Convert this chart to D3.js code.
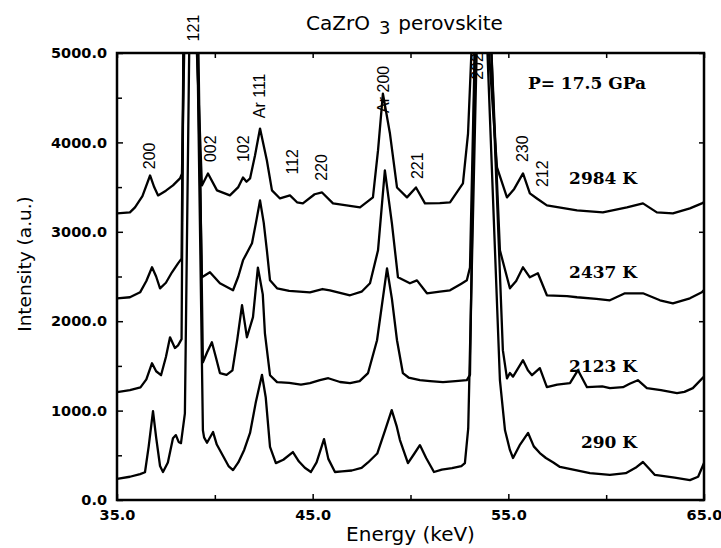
<!DOCTYPE html>
<html>
<head>
<meta charset="utf-8">
<script src="https://cdn.jsdelivr.net/npm/d3@7"></script>
<style>
  body { margin: 0; background: #fff; }
  .tick text { font-family: "DejaVu Sans", sans-serif; font-weight: bold; font-size: 14.5px; fill: #000; }
  .tick line { stroke: #000; stroke-width: 1.5; }
  .trace { fill: none; stroke: #000; stroke-width: 2.3; stroke-linejoin: round; }
  .hkl { font-family: "Liberation Sans", Arial, sans-serif; font-size: 16px; }
  .temp { font-family: "DejaVu Serif", serif; font-weight: bold; font-size: 17px; }
</style>
</head>
<body>
<div id="chart"></div>
<script>

// energy (keV), intensity (a.u.) pairs; peaks above 5000 are clipped
var trace290 = [[35.0,235],[35.66,260],[36.18,290],[36.43,310],[36.62,600],[36.84,995],[37.0,700],[37.2,380],[37.35,313],
  [37.6,420],[37.86,690],[38.01,726],[38.15,650],[38.27,636],[38.47,970],[38.7,5200],[38.9,5600],[39.1,5200],[39.39,780],
  [39.45,700],[39.6,640],[39.91,760],[40.1,620],[40.4,500],[40.7,380],[40.93,335],[41.2,420],[41.5,560],[41.8,750],
  [42.1,1100],[42.41,1400],[42.6,1150],[42.82,595],[43.12,413],[43.5,450],[43.99,536],[44.3,430],[44.6,360],[44.91,313],
  [45.2,420],[45.58,681],[45.8,460],[46.14,313],[46.5,320],[47.0,330],[47.5,360],[47.83,420],[48.3,520],[48.7,780],
  [49.04,1005],[49.3,820],[49.46,670],[49.87,413],[50.2,520],[50.48,614],[50.8,470],[51.2,313],[51.6,340],[52.12,357],
  [52.6,380],[52.78,413],[52.95,800],[53.4,5200],[53.65,5600],[53.9,5200],[54.57,1340],[54.83,780],[55.08,560],[55.24,470],
  [55.6,620],[56.01,750],[56.3,600],[56.61,525],[56.92,470],[57.3,420],[57.64,370],[58.5,330],[59.17,300],[60.19,280],
  [61.0,300],[61.5,360],[61.88,425],[62.2,350],[62.49,280],[63.5,250],[64.28,223],[64.7,260],[65.0,413]];

var trace2123 = [[35.0,1206],[35.66,1230],[36.2,1260],[36.5,1350],[36.79,1530],[37.0,1440],[37.25,1396],[37.5,1600],
  [37.71,1820],[37.96,1700],[38.12,1730],[38.3,1800],[38.4,5200],[38.75,5600],[39.15,5200],[39.39,1540],[39.6,1650],
  [39.85,1765],[40.05,1600],[40.26,1420],[40.6,1400],[40.9,1450],[41.15,1800],[41.39,2180],[41.55,1950],[41.64,1820],
  [41.95,2045],[42.2,2600],[42.45,2300],[42.56,1865],[42.82,1396],[43.18,1318],[43.8,1310],[44.4,1290],[44.86,1307],
  [45.37,1340],[45.8,1362],[46.4,1320],[46.91,1307],[47.4,1330],[47.83,1420],[48.29,1787],[48.8,2590],[49.05,2250],
  [49.31,1787],[49.61,1420],[49.9,1370],[50.48,1340],[51.0,1330],[51.66,1318],[52.3,1330],[52.88,1340],[53.04,1400],
  [53.3,5200],[53.7,5600],[54.1,5200],[54.72,1676],[54.93,1360],[55.08,1420],[55.24,1380],[55.75,1564],[56.0,1450],
  [56.21,1396],[56.61,1475],[56.97,1262],[57.5,1290],[58.15,1307],[58.56,1452],[59.02,1262],[59.8,1270],[60.19,1251],
  [60.86,1262],[61.2,1300],[61.62,1340],[62.08,1251],[62.8,1230],[63.62,1195],[64.0,1210],[64.43,1251],[65.0,1380]];

var trace2437 = [[35.0,2256],[35.66,2268],[36.18,2323],[36.5,2450],[36.79,2603],[37.0,2500],[37.2,2368],[37.5,2430],
  [37.81,2547],[38.12,2647],[38.3,2700],[38.4,5200],[38.75,5600],[39.1,5200],[39.34,2491],[39.75,2547],[40.26,2424],
  [40.93,2346],[41.2,2500],[41.44,2681],[41.9,2871],[42.1,3100],[42.31,3351],[42.5,3100],[42.66,2793],[42.82,2457],
  [43.18,2368],[43.8,2340],[44.86,2323],[45.5,2360],[45.88,2346],[46.91,2290],[47.5,2330],[47.93,2424],[48.34,2793],
  [48.69,3686],[49.05,3094],[49.36,2491],[49.97,2424],[50.33,2457],[50.84,2312],[51.5,2330],[52.02,2346],[52.6,2420],
  [52.88,2457],[53.04,2600],[53.3,5200],[53.7,5600],[54.1,5200],[54.57,2793],[55.08,2368],[55.4,2450],[55.75,2603],
  [56.1,2491],[56.51,2536],[56.97,2290],[58.0,2280],[58.51,2268],[59.5,2250],[60.19,2234],[60.96,2312],[61.88,2312],
  [62.75,2234],[63.41,2200],[64.28,2256],[64.89,2323],[65.0,2350]];

var trace2984 = [[35.0,3206],[35.66,3217],[35.92,3273],[36.3,3400],[36.69,3630],[36.9,3500],[37.1,3407],[37.5,3460],
  [37.86,3519],[38.22,3597],[38.32,3650],[38.45,5200],[38.75,5600],[39.05,5200],[39.34,3519],[39.65,3653],[40.11,3463],
  [40.77,3407],[41.2,3500],[41.44,3608],[41.62,3560],[41.8,3597],[42.05,3850],[42.31,4155],[42.66,3798],[42.92,3463],
  [43.33,3373],[43.84,3407],[44.2,3330],[44.5,3318],[45.1,3420],[45.48,3440],[46.04,3318],[47.42,3273],[48.08,3385],
  [48.34,3910],[48.59,4546],[48.95,4099],[49.31,3496],[49.82,3385],[50.28,3496],[50.74,3318],[51.5,3320],[52.02,3329],
  [52.68,3541],[52.94,4099],[53.15,5200],[53.6,5600],[53.95,5200],[54.42,3720],[54.93,3385],[55.3,3480],[55.75,3653],
  [56.1,3430],[56.46,3373],[56.97,3295],[58.51,3240],[59.83,3217],[61.06,3273],[61.88,3318],[62.59,3217],[63.41,3206],
  [64.28,3262],[64.89,3318],[65.0,3330]];

var traces = [trace290, trace2123, trace2437, trace2984];

// temperature labels and the intensity where they sit
var tempNames = ["2984 K", "2437 K", "2123 K", "290 K"];
var tempY = [3540, 2480, 1430, 580];

// reflection labels: text, energy, intensity at the bottom of the label
var hklNames = ["200", "121", "002", "102", "Ar 111", "112", "220", "Ar 200", "221", "202", "230", "212"];
var hklE = [36.65, 38.9, 39.75, 41.44, 42.26, 43.94, 45.43, 48.6, 50.33, 53.4, 55.7, 56.72];
var hklI = [3700, 5130, 3780, 3780, 4270, 3640, 3570, 4330, 3590, 4700, 3780, 3500];

var xTicks = [35, 45, 55, 65];
var xMinor = [40, 50, 60];
var yTicks = [0, 1000, 2000, 3000, 4000, 5000];
var yMinor = [500, 1500, 2500, 3500, 4500];

var svg = d3.select("#chart").append("svg").attr("width", 721).attr("height", 548),
    margin = {top: 53, right: 17, bottom: 48, left: 117},
    width = 721 - margin.left - margin.right,
    height = 548 - margin.top - margin.bottom;

var g = svg.append("g").attr("transform", "translate(" + margin.left + "," + margin.top + ")");

var x = d3.scaleLinear().domain([35, 65]).range([0, width]);
var y = d3.scaleLinear().domain([0, 5000]).range([height, 0]);

svg.append("defs").append("clipPath").attr("id", "plotclip")
  .append("rect").attr("width", width).attr("height", height);

var fmt = d3.format(".1f");

// inward ticks on all four sides
g.append("g").attr("transform", "translate(0," + height + ")")
  .call(d3.axisBottom(x).tickValues(xTicks).tickFormat(fmt).tickSizeInner(-6).tickSizeOuter(0).tickPadding(10));
g.append("g").attr("transform", "translate(0," + height + ")")
  .call(d3.axisBottom(x).tickValues(xMinor).tickFormat("").tickSizeInner(-5).tickSizeOuter(0));
g.append("g")
  .call(d3.axisLeft(y).tickValues(yTicks).tickFormat(fmt).tickSizeInner(-6).tickSizeOuter(0).tickPadding(10));
g.append("g")
  .call(d3.axisLeft(y).tickValues(yMinor).tickFormat("").tickSizeInner(-5).tickSizeOuter(0));
g.append("g")
  .call(d3.axisTop(x).tickValues(xTicks.concat(xMinor)).tickFormat("").tickSizeInner(-5).tickSizeOuter(0));
g.append("g").attr("transform", "translate(" + width + ",0)")
  .call(d3.axisRight(y).tickValues(yTicks).tickFormat("").tickSizeInner(-5).tickSizeOuter(0));

g.selectAll(".domain").remove();

g.append("rect")
  .attr("width", width).attr("height", height)
  .style("fill", "none").style("stroke", "#000").style("stroke-width", 2.5);

var line = d3.line()
  .x(function(d) { return x(d[0]); })
  .y(function(d) { return y(d[1]); });

g.append("g").attr("clip-path", "url(#plotclip)")
  .selectAll(".trace")
  .data(traces)
  .enter()
  .append("path")
  .attr("class", "trace")
  .attr("d", line);

// reflection labels, rotated to read upward
g.selectAll(".hkl")
  .data(hklNames)
  .enter()
  .append("text")
  .attr("class", "hkl")
  .attr("transform", function(d, i) { return "translate(" + x(hklE[i]) + "," + y(hklI[i]) + ") rotate(-90)"; })
  .attr("dy", "0.35em")
  .text(function(d) { return d; });

g.selectAll(".temp")
  .data(tempNames)
  .enter()
  .append("text")
  .attr("class", "temp")
  .attr("x", x(61.58))
  .attr("y", function(d, i) { return y(tempY[i]); })
  .attr("text-anchor", "end")
  .text(function(d) { return d; });

g.append("text")
  .attr("class", "temp")
  .attr("x", x(56.0))
  .attr("y", y(4600))
  .text("P= 17.5 GPa");

var title = svg.append("text")
  .attr("x", 306).attr("y", 30)
  .style("font-family", "DejaVu Sans, sans-serif")
  .style("font-size", "20px");
title.append("tspan").text("CaZrO");
title.append("tspan").attr("dx", 9).attr("dy", 4).style("font-size", "18px").text("3");
title.append("tspan").attr("dx", 8).attr("dy", -4).text("perovskite");

svg.append("text")
  .attr("x", margin.left + width / 2).attr("y", 541)
  .attr("text-anchor", "middle")
  .style("font-family", "DejaVu Sans, sans-serif")
  .style("font-size", "20px")
  .text("Energy (keV)");

svg.append("text")
  .attr("transform", "translate(31," + 264 + ") rotate(-90)")
  .attr("text-anchor", "middle")
  .style("font-family", "DejaVu Sans, sans-serif")
  .style("font-size", "18.5px")
  .text("Intensity (a.u.)");

</script>
</body>
</html>
